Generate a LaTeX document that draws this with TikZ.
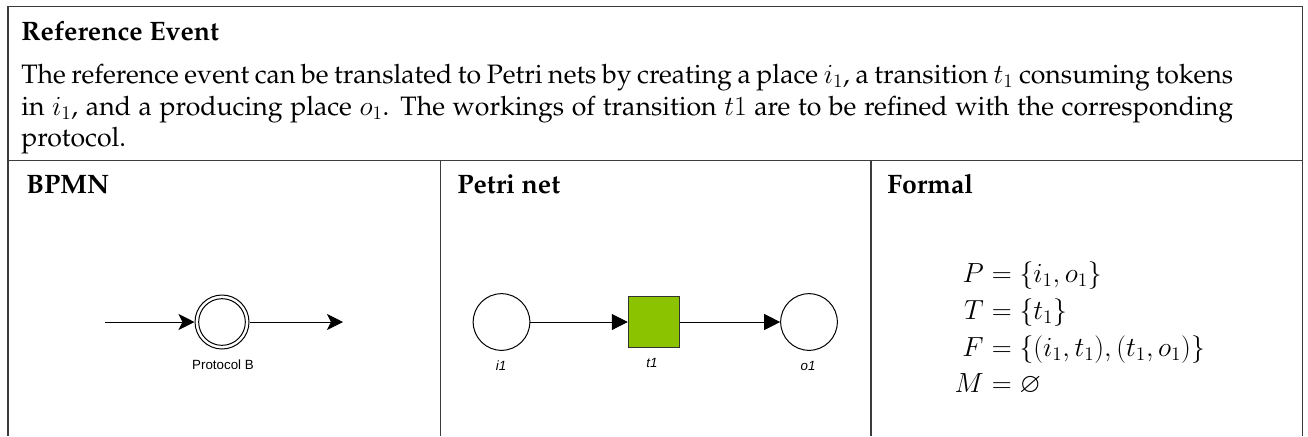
\documentclass[tikz,border=0pt]{standalone}
\usepackage[T1,TU]{fontenc}
\usepackage{amssymb}
\usepackage{fontspec}
\newfontfamily\arialfont{Liberation Sans}
\newcommand\palfont{\fontencoding{T1}\fontfamily{ppl}\selectfont}
\usetikzlibrary{arrows.meta}
\definecolor{transgreen}{RGB}{139,195,0}
\definecolor{framegray}{RGB}{60,60,60}

\begin{document}
\begin{tikzpicture}[x=0.75pt,y=-0.75pt,
  frame/.style={line width=1.3pt, draw=framegray},
  bodytext/.style={anchor=base west, inner sep=0pt, font=\palfont\fontsize{20}{24}\selectfont},
  headtext/.style={anchor=base west, inner sep=0pt, font=\palfont\bfseries\fontsize{20}{24}\selectfont},
  place/.style={circle, draw, line width=0.75pt, minimum size=42.5pt, inner sep=0pt},
  transbox/.style={rectangle, draw=black!80, line width=0.75pt, fill=transgreen, minimum size=38.6pt, inner sep=0pt},
  evouter/.style={circle, draw, line width=0.75pt, minimum size=40.5pt, inner sep=0pt},
  evinner/.style={circle, draw, line width=0.75pt, minimum size=35pt, inner sep=0pt},
  smalllabel/.style={anchor=base, inner sep=0pt, font=\arialfont\fontsize{10}{12}\selectfont},
  italabel/.style={anchor=base, inner sep=0pt, font=\arialfont\itshape\fontsize{10}{12}\selectfont},
  flowarrow/.style={line width=0.75pt, -{Stealth[length=12pt, width=12pt, inset=3pt]}},
  arcarrow/.style={line width=0.75pt, -{Triangle[length=12pt, width=12pt]}},
  mathleft/.style={anchor=base east, inner sep=0pt, font=\fontsize{20.7}{25}\selectfont},
  mathright/.style={anchor=base west, inner sep=0pt, font=\fontsize{20.7}{25}\selectfont}
]
\useasboundingbox (0,0) rectangle (1308,436);
\fill[white] (0,0) rectangle (1308,436);

% table frame
\draw[frame] (8,436) -- (8,6.5) -- (1302.5,6.5) -- (1302.5,436);
\draw[frame] (8,160.5) -- (1302.5,160.5);
\draw[frame] (440.5,160.5) -- (440.5,436);
\draw[frame] (871.3,160.5) -- (871.3,436);

% header row: title and justified description
\node[headtext] (title) at (21,40) {Reference Event};
\node[bodytext] (line1) at (21,83.5) {\makebox[909pt][s]{The reference event can be translated to Petri nets by creating a place $i_1$, a transition $t_1$ consuming tokens}};
\node[bodytext] (line2) at (21,115) {\makebox[909pt][s]{in $i_1$, and a producing place $o_1$. The workings of transition $t1$ are to be refined with the corresponding}};
\node[bodytext] (line3) at (21,146.5) {protocol.};

% column headings
\node[headtext] (hbpmn) at (26,193) {BPMN};
\node[headtext] (hpetri) at (457,193) {Petri net};
\node[headtext] (hformal) at (887,193) {Formal};

% BPMN event
\coordinate (bin) at (105,322);
\coordinate (bout) at (343,322);
\node[evouter] (ev) at (222,322) {};
\node[evinner] (evin) at (222,322) {};
\node[smalllabel] (evlabel) at (223,369) {Protocol B};
\draw[flowarrow] (bin) -- (ev);
\draw[flowarrow] (ev) -- (bout);

% Petri net
\node[place] (i1) at (501.5,322) {};
\node[transbox] (t1) at (654,322) {};
\node[place] (o1) at (809,322) {};
\draw[arcarrow] (i1) -- (t1);
\draw[arcarrow] (t1) -- (o1);
\node[italabel] (li1) at (501,370) {i1};
\node[italabel] (lt1) at (652,367.5) {t1};
\node[italabel] (lo1) at (808,370) {o1};

% formal definition, aligned on the equals signs
\node[mathleft] (pl) at (984,282) {$P$};
\node[mathright] (pr) at (984,282) {${}=\{i_1,o_1\}$};
\node[mathleft] (tl) at (984,319.5) {$T$};
\node[mathright] (tr) at (984,319.5) {${}=\{t_1\}$};
\node[mathleft] (fl) at (984,356) {$F$};
\node[mathright] (fr) at (984,356) {${}=\{(i_1,t_1),(t_1,o_1)\}$};
\node[mathleft] (ml) at (984,392) {$M$};
\node[mathright] (mr) at (984,392) {${}=\varnothing$};
\end{tikzpicture}
\end{document}
